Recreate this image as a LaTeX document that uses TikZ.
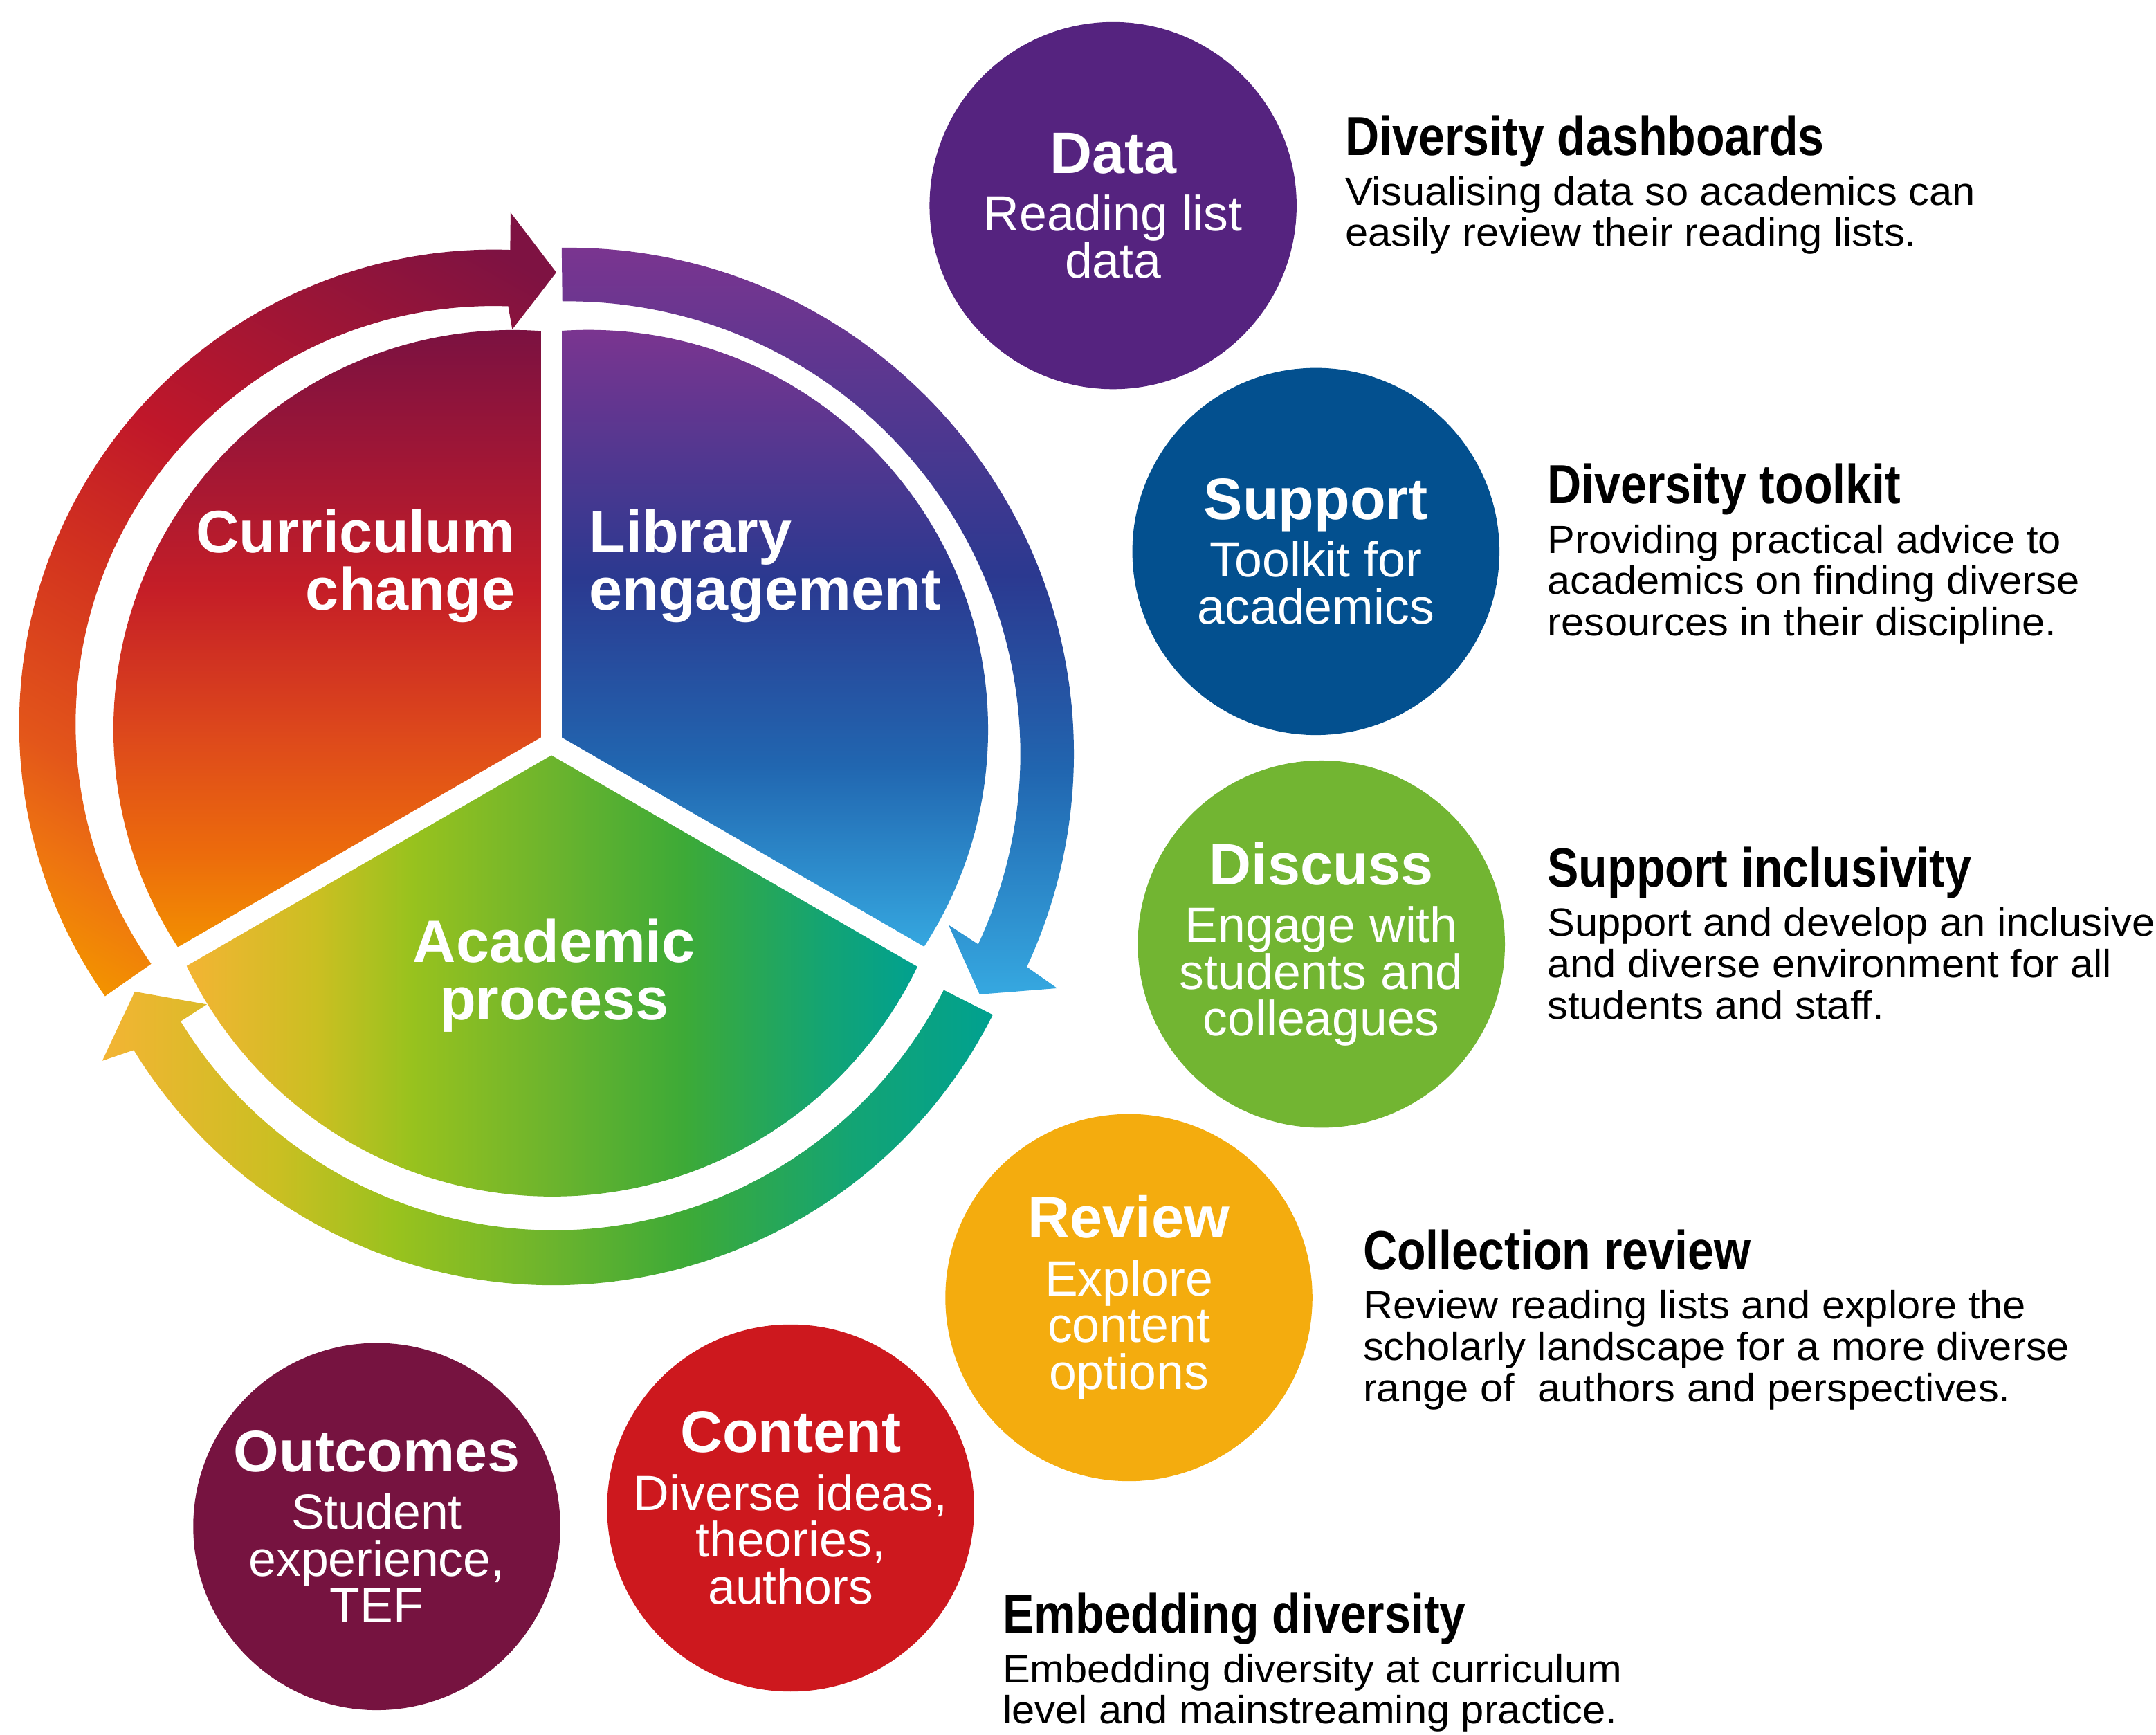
\documentclass[tikz,border=0pt]{standalone}
\usepackage{fontspec}
\setmainfont{Liberation Sans}
\newfontfamily\headfam[FakeStretch=0.857]{Liberation Sans}
\newfontfamily\bodyfam[FakeStretch=1.05]{Liberation Sans}
\usepackage{xcolor}

\definecolor{dataPurple}{HTML}{55237F}
\definecolor{supportBlue}{HTML}{03508F}
\definecolor{discussGreen}{HTML}{72B532}
\definecolor{reviewAmber}{HTML}{F4AC0E}
\definecolor{contentRed}{HTML}{CD181E}
\definecolor{outcomesMaroon}{HTML}{761340}
% curriculum sector
\definecolor{cOrange}{HTML}{F39200}
\definecolor{cOrangeRed}{HTML}{EC6B0C}
\definecolor{cVermil}{HTML}{DE4A1B}
\definecolor{cRed}{HTML}{C51E27}
\definecolor{cCrimson}{HTML}{9E1636}
\definecolor{cMaroon}{HTML}{7A1141}
% library sector
\definecolor{lBlue}{HTML}{36A9E1}
\definecolor{lMid}{HTML}{2166B0}
\definecolor{lNavy}{HTML}{2B3990}
\definecolor{lPurple}{HTML}{7B3590}
% academic sector
\definecolor{aYellow}{HTML}{F4B434}
\definecolor{aOlive}{HTML}{CBBF22}
\definecolor{aLime}{HTML}{98C21E}
\definecolor{aLeaf}{HTML}{6CB42D}
\definecolor{aGreen}{HTML}{3DAA37}
\definecolor{aJade}{HTML}{13A474}
\definecolor{aTeal}{HTML}{00A190}
% red loop arrow
\definecolor{rOrange}{HTML}{F39200}
\definecolor{rAmber}{HTML}{EE7410}
\definecolor{rVermil}{HTML}{E3561A}
\definecolor{rScarlet}{HTML}{D2321F}
\definecolor{rRed}{HTML}{C0172A}
\definecolor{rCrimson}{HTML}{9A1537}
\definecolor{rMaroon}{HTML}{7E1242}

\pgfdeclareverticalshading{currshade}{100bp}{color(0bp)=(cOrange); color(25bp)=(cOrange); color(33bp)=(cOrangeRed); color(42bp)=(cVermil); color(54bp)=(cRed); color(65bp)=(cCrimson); color(75bp)=(cMaroon); color(100bp)=(cMaroon)}
\pgfdeclareverticalshading{libshade}{100bp}{color(0bp)=(lBlue); color(25bp)=(lBlue); color(40bp)=(lMid); color(55bp)=(lNavy); color(75bp)=(lPurple); color(100bp)=(lPurple)}
\pgfdeclareverticalshading{loopshade}{100bp}{color(0bp)=(lBlue); color(25bp)=(lBlue); color(40bp)=(lMid); color(53bp)=(lNavy); color(75bp)=(lPurple); color(100bp)=(lPurple)}
\pgfdeclarehorizontalshading{acadshade}{100bp}{color(0bp)=(aYellow); color(25bp)=(aYellow); color(34bp)=(aOlive); color(40.5bp)=(aLime); color(50bp)=(aLeaf); color(59bp)=(aGreen); color(68.6bp)=(aJade); color(75bp)=(aTeal); color(100bp)=(aTeal)}
\pgfdeclarehorizontalshading{returnshade}{100bp}{color(0bp)=(aYellow); color(25bp)=(aYellow); color(34.8bp)=(aOlive); color(41.7bp)=(aLime); color(50.2bp)=(aLeaf); color(57.8bp)=(aGreen); color(67.1bp)=(aJade); color(75bp)=(aTeal); color(100bp)=(aTeal)}
\pgfdeclarehorizontalshading{changeshade}{100bp}{color(0bp)=(rOrange); color(25bp)=(rOrange); color(30.5bp)=(rAmber); color(36bp)=(rVermil); color(47bp)=(rScarlet); color(56bp)=(rRed); color(67bp)=(rCrimson); color(75bp)=(rMaroon); color(100bp)=(rMaroon)}

\newcommand{\bubfont}{\fontsize{20.5pt}{19.35pt}\selectfont\lineskiplimit=-50pt}
\newcommand{\bubtitle}[1]{{\bfseries\fontsize{24.2pt}{24.2pt}\selectfont #1}\\[4.55pt]}
\newcommand{\piefont}{\bfseries\fontsize{24.75pt}{23.9pt}\selectfont\lineskiplimit=-50pt}
\newcommand{\descfont}{\bodyfam\fontsize{16.27pt}{17.07pt}\selectfont\lineskiplimit=-50pt}
\newcommand{\deschead}[1]{{\headfam\bfseries\fontsize{22.76pt}{22.76pt}\selectfont #1}\\[3.41pt]}

\begin{document}
\begin{tikzpicture}[x=0.02cm,y=0.02cm]

\tikzset{bubble/.style={
  circle,
  minimum size=5.34cm,
  inner sep=0pt,
  text=white,
  align=center,
  font=\bubfont
  }}
\tikzset{pielabel/.style={inner sep=0pt, text=white, font=\piefont}}
% base of a desc node is the baseline of its last line
\tikzset{desc/.style={anchor=base west, inner sep=0pt, align=left, font=\descfont}}
\tikzset{divider/.style={white, line width=8.5pt}}

\useasboundingbox (0,0) rectangle (1568,1261.5);
\fill[white] (0,0) rectangle (1568,1261.5);

\coordinate (hub) at (401,721);

% pie sectors
\begin{scope}
\clip[shift={(hub)}] (0,0) -- (90:600) -- (150:1200) -- (210:600) -- cycle;
\clip (373,731) circle[radius=290.5];
\shade[shading=currshade] (70,569) rectangle (412,1023);
\end{scope}
\begin{scope}
\clip[shift={(hub)}] (0,0) -- (90:600) -- (30:1200) -- (-30:600) -- cycle;
\clip (428,731) circle[radius=290.6];
\shade[shading=libshade] (390,569) rectangle (730,1023);
\end{scope}
\begin{scope}
\clip[shift={(hub)}] (0,0) -- (210:600) -- (270:1200) -- (330:600) -- cycle;
\clip (401.6,686) circle[radius=294.5];
\shade[shading=acadshade] (134,380) rectangle (669,725);
\end{scope}

\draw[divider] (hub) -- ++(90:310);
\draw[divider] (hub) -- ++(210:325);
\draw[divider] (hub) -- ++(330:325);

% loop arrows
\begin{scope}
\clip[shift={(359,735)}] (215:345) arc[start angle=215, end angle=88, radius=345]
  -- (88.1:372.2) -- (82.1:331.6) -- (87.3:287.3) -- (88:304)
  arc[start angle=88, end angle=215, radius=304] -- cycle;
\shade[shading=changeshade, shading angle=60.7] (-81.5,502) rectangle (528.5,1112);
\end{scope}
\begin{scope}
\clip[shift={(413,713.4)}] (90.7:368) arc[start angle=90.7, end angle=-24.9, radius=368]
  -- (-25.6:394.6) -- (-30.3:346.8) -- (-24.2:303.5) -- (-24.9:329)
  arc[start angle=-24.9, end angle=90.7, radius=329] -- cycle;
\shade[shading=loopshade] (395,536) rectangle (800,1084);
\end{scope}
\begin{scope}
\clip[shift={(402.5,685)}] (-26.8:358) arc[start angle=-26.8, end angle=-148.5, radius=358]
  -- (-149.3:381.6) -- (-154.6:337.1) -- (-148.6:295.3) -- (-148.5:318)
  arc[start angle=-148.5, end angle=-26.8, radius=318] -- cycle;
\shade[shading=returnshade] (73,320) rectangle (723,546);
\end{scope}

\node[pielabel, anchor=east, align=right] (curr) at (375,850) {Curriculum\\change};
\node[pielabel, anchor=west, align=left] (lib) at (428,850) {Library\\engagement};
\node[pielabel, align=center] (acad) at (403,552) {Academic\\process};

% bubbles
\node[bubble, fill=dataPurple] (data) at (809.5,1112) {\bubtitle{Data}Reading list\\data};
\node[bubble, fill=supportBlue] (support) at (957,860.5) {\bubtitle{Support}Toolkit for\\academics};
\node[bubble, fill=discussGreen] (discuss) at (961,575) {\bubtitle{Discuss}Engage with\\students and\\colleagues};
\node[bubble, fill=reviewAmber] (review) at (821,318) {\bubtitle{Review}Explore\\content\\options};
\node[bubble, fill=contentRed] (content) at (575,165) {\bubtitle{Content}Diverse ideas,\\theories,\\authors};
\node[bubble, fill=outcomesMaroon] (outcomes) at (274,151.5) {\bubtitle{Outcomes}Student\\experience,\\TEF};

% descriptions
\node[desc] (dashboards) at (978,1082.4) {\deschead{Diversity dashboards}Visualising data so academics can\\easily review their reading lists.};
\node[desc] (toolkit) at (1125,799.4) {\deschead{Diversity toolkit}Providing practical advice to\\academics on finding diverse\\resources in their discipline.};
\node[desc] (inclusivity) at (1125,520.7) {\deschead{Support inclusivity}Support and develop an inclusive\\and diverse environment for all\\students and staff.};
\node[desc] (collection) at (991,242.4) {\deschead{Collection review}Review reading lists and explore the\\scholarly landscape for a more diverse\\range of\hspace{0.3em} authors and perspectives.};
\node[desc] (embedding) at (728.8,8.2) {\deschead{Embedding diversity}Embedding diversity at curriculum\\level and mainstreaming practice.};
\end{tikzpicture}
\end{document}
